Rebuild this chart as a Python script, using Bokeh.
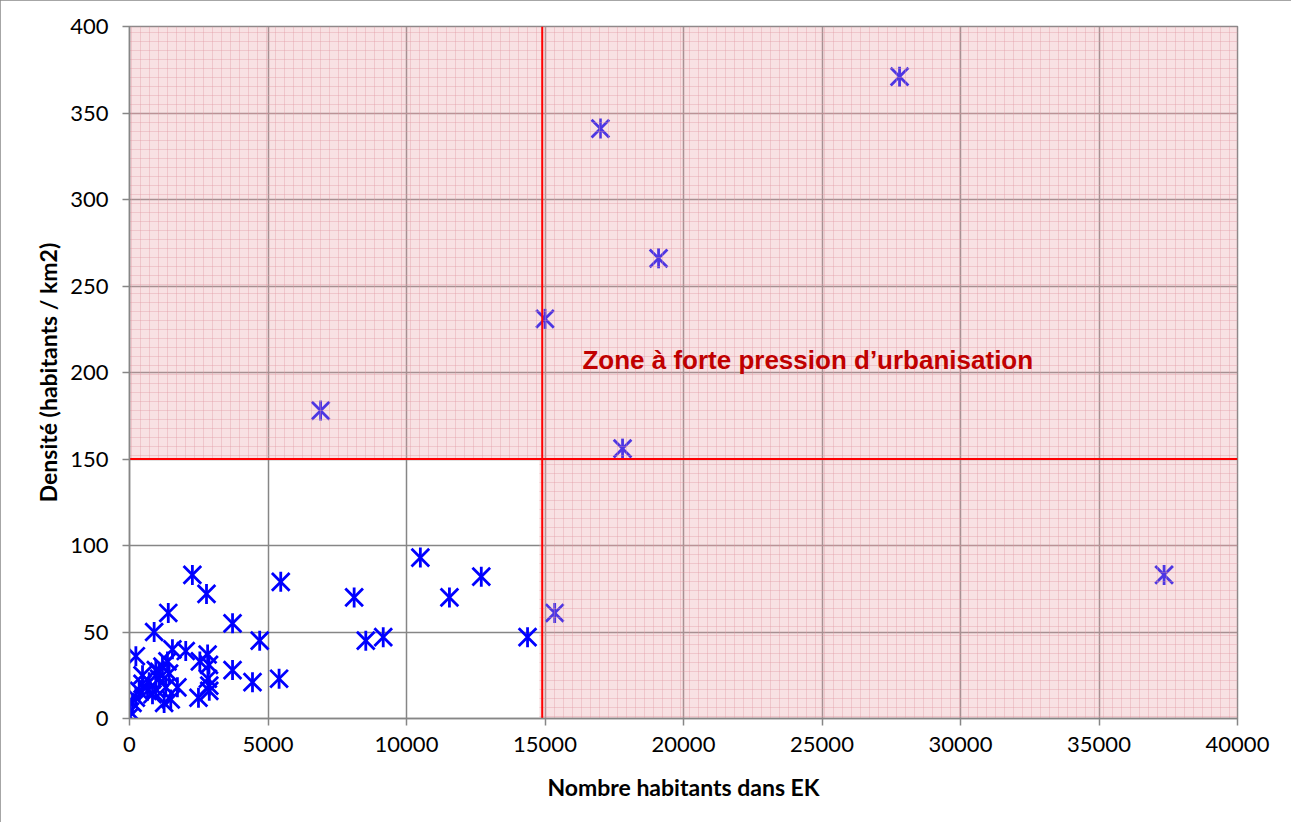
from bokeh.plotting import figure
from bokeh.models import Range1d, FixedTicker, NumeralTickFormatter, Label
from bokeh.embed import file_html
from bokeh.resources import INLINE
import math

# ---- data ----
habitants = [0, 20, 110, 230, 230, 350, 470, 470, 650, 710, 830, 890, 950, 950,
             1070, 1070, 1190, 1250, 1310, 1370, 1400, 1430, 1490, 1550, 1730,
             2030, 2270, 2490, 2540, 2780, 2820, 2830, 2870, 2880, 2880, 3720,
             3720, 4440, 4700, 5400, 5460, 8110, 8530, 9160, 10500, 11550,
             12700, 14370,
             6900, 15000, 15350, 17000, 17800, 19100, 27800, 37350]
densite = [1, 4, 9, 12, 36, 16, 25, 20, 16, 21, 14, 50, 28, 17,
           27, 23, 30, 9, 18, 33, 61, 26, 11, 40, 18,
           39, 83, 12, 33, 72, 37, 23, 31, 19, 16, 55,
           28, 21, 45, 23, 79, 70, 45, 47, 93, 70,
           82, 47,
           178, 231, 61, 341, 156, 266, 371, 83]

x_ticks = [0, 5000, 10000, 15000, 20000, 25000, 30000, 35000, 40000]
y_ticks = [0, 50, 100, 150, 200, 250, 300, 350, 400]
seuil_habitants = 14900
seuil_densite = 150
zone_label = "Zone à forte pression d’urbanisation"
x_title = "Nombre habitants dans EK"
y_title = "Densité (habitants / km2)"

GRAY = "#868686"

p = figure(width=1291, height=822, output_backend="svg", toolbar_location=None,
           x_range=Range1d(0, 40000), y_range=Range1d(0, 400),
           min_border_left=129, min_border_right=54, min_border_top=26,
           min_border_bottom=104)
p.styles = {"outline": "2px solid #898989", "outline-offset": "-2px"}
p.background_fill_color = "white"
p.border_fill_color = "white"
p.outline_line_color = GRAY
p.outline_line_width = 1.5

p.xaxis.ticker = FixedTicker(ticks=x_ticks)
p.yaxis.ticker = FixedTicker(ticks=y_ticks)
p.xaxis.formatter = NumeralTickFormatter(format="0")
p.yaxis.formatter = NumeralTickFormatter(format="0")
p.xgrid.ticker = FixedTicker(ticks=x_ticks)
p.ygrid.ticker = FixedTicker(ticks=y_ticks)
for g in (p.xgrid, p.ygrid):
    g.grid_line_color = GRAY
    g.grid_line_width = 1.5

for ax in (p.xaxis, p.yaxis):
    ax.axis_line_color = GRAY
    ax.axis_line_width = 1.5
    ax.major_tick_line_color = GRAY
    ax.major_tick_line_width = 1.5
    ax.major_tick_out = 7
    ax.major_tick_in = 0
    ax.minor_tick_line_color = None
    ax.major_label_text_font = "Lato"
    ax.major_label_text_font_size = "22px"
    ax.major_label_text_color = "black"
    ax.axis_label_text_font = "Lato"
    ax.axis_label_text_font_style = "bold"
    ax.axis_label_text_font_size = "23px"
    ax.axis_label_text_color = "black"

p.xaxis.axis_label = x_title
p.yaxis.axis_label = y_title
p.xaxis.major_label_standoff = 11
p.yaxis.major_label_standoff = 14
p.xaxis.axis_label_standoff = 18
p.yaxis.axis_label_standoff = 5

# points (star markers: X plus vertical bar)
p.scatter(habitants, densite, marker="x", size=25, line_color="#0000ff", line_width=2.8)
p.scatter(habitants, densite, marker="dash", angle=math.pi / 2, size=20,
          line_color="#0000ff", line_width=2.8)

# pink zone overlay
zx = [0, 0, 40000, 40000, seuil_habitants - 100, seuil_habitants - 100]
zy = [seuil_densite, 400, 400, 0, 0, seuil_densite]
p.patch(zx, zy, fill_color="#eaa3aa", fill_alpha=0.33, line_color=None,
        hatch_pattern="cross", hatch_color="#e0959d", hatch_alpha=0.35,
        hatch_scale=9, hatch_weight=1)

# threshold lines
p.line([seuil_habitants, seuil_habitants], [0, 400], line_color="#ff0000", line_width=2)
p.line([0, 40000], [seuil_densite, seuil_densite], line_color="#ff0000", line_width=2)

p.add_layout(Label(x=16350, y=207, text=zone_label, text_font="Liberation Sans",
                   text_font_style="bold", text_font_size="26px",
                   text_color="#c00000", text_baseline="alphabetic"))

open("out.html", "w").write(file_html(p, INLINE))
